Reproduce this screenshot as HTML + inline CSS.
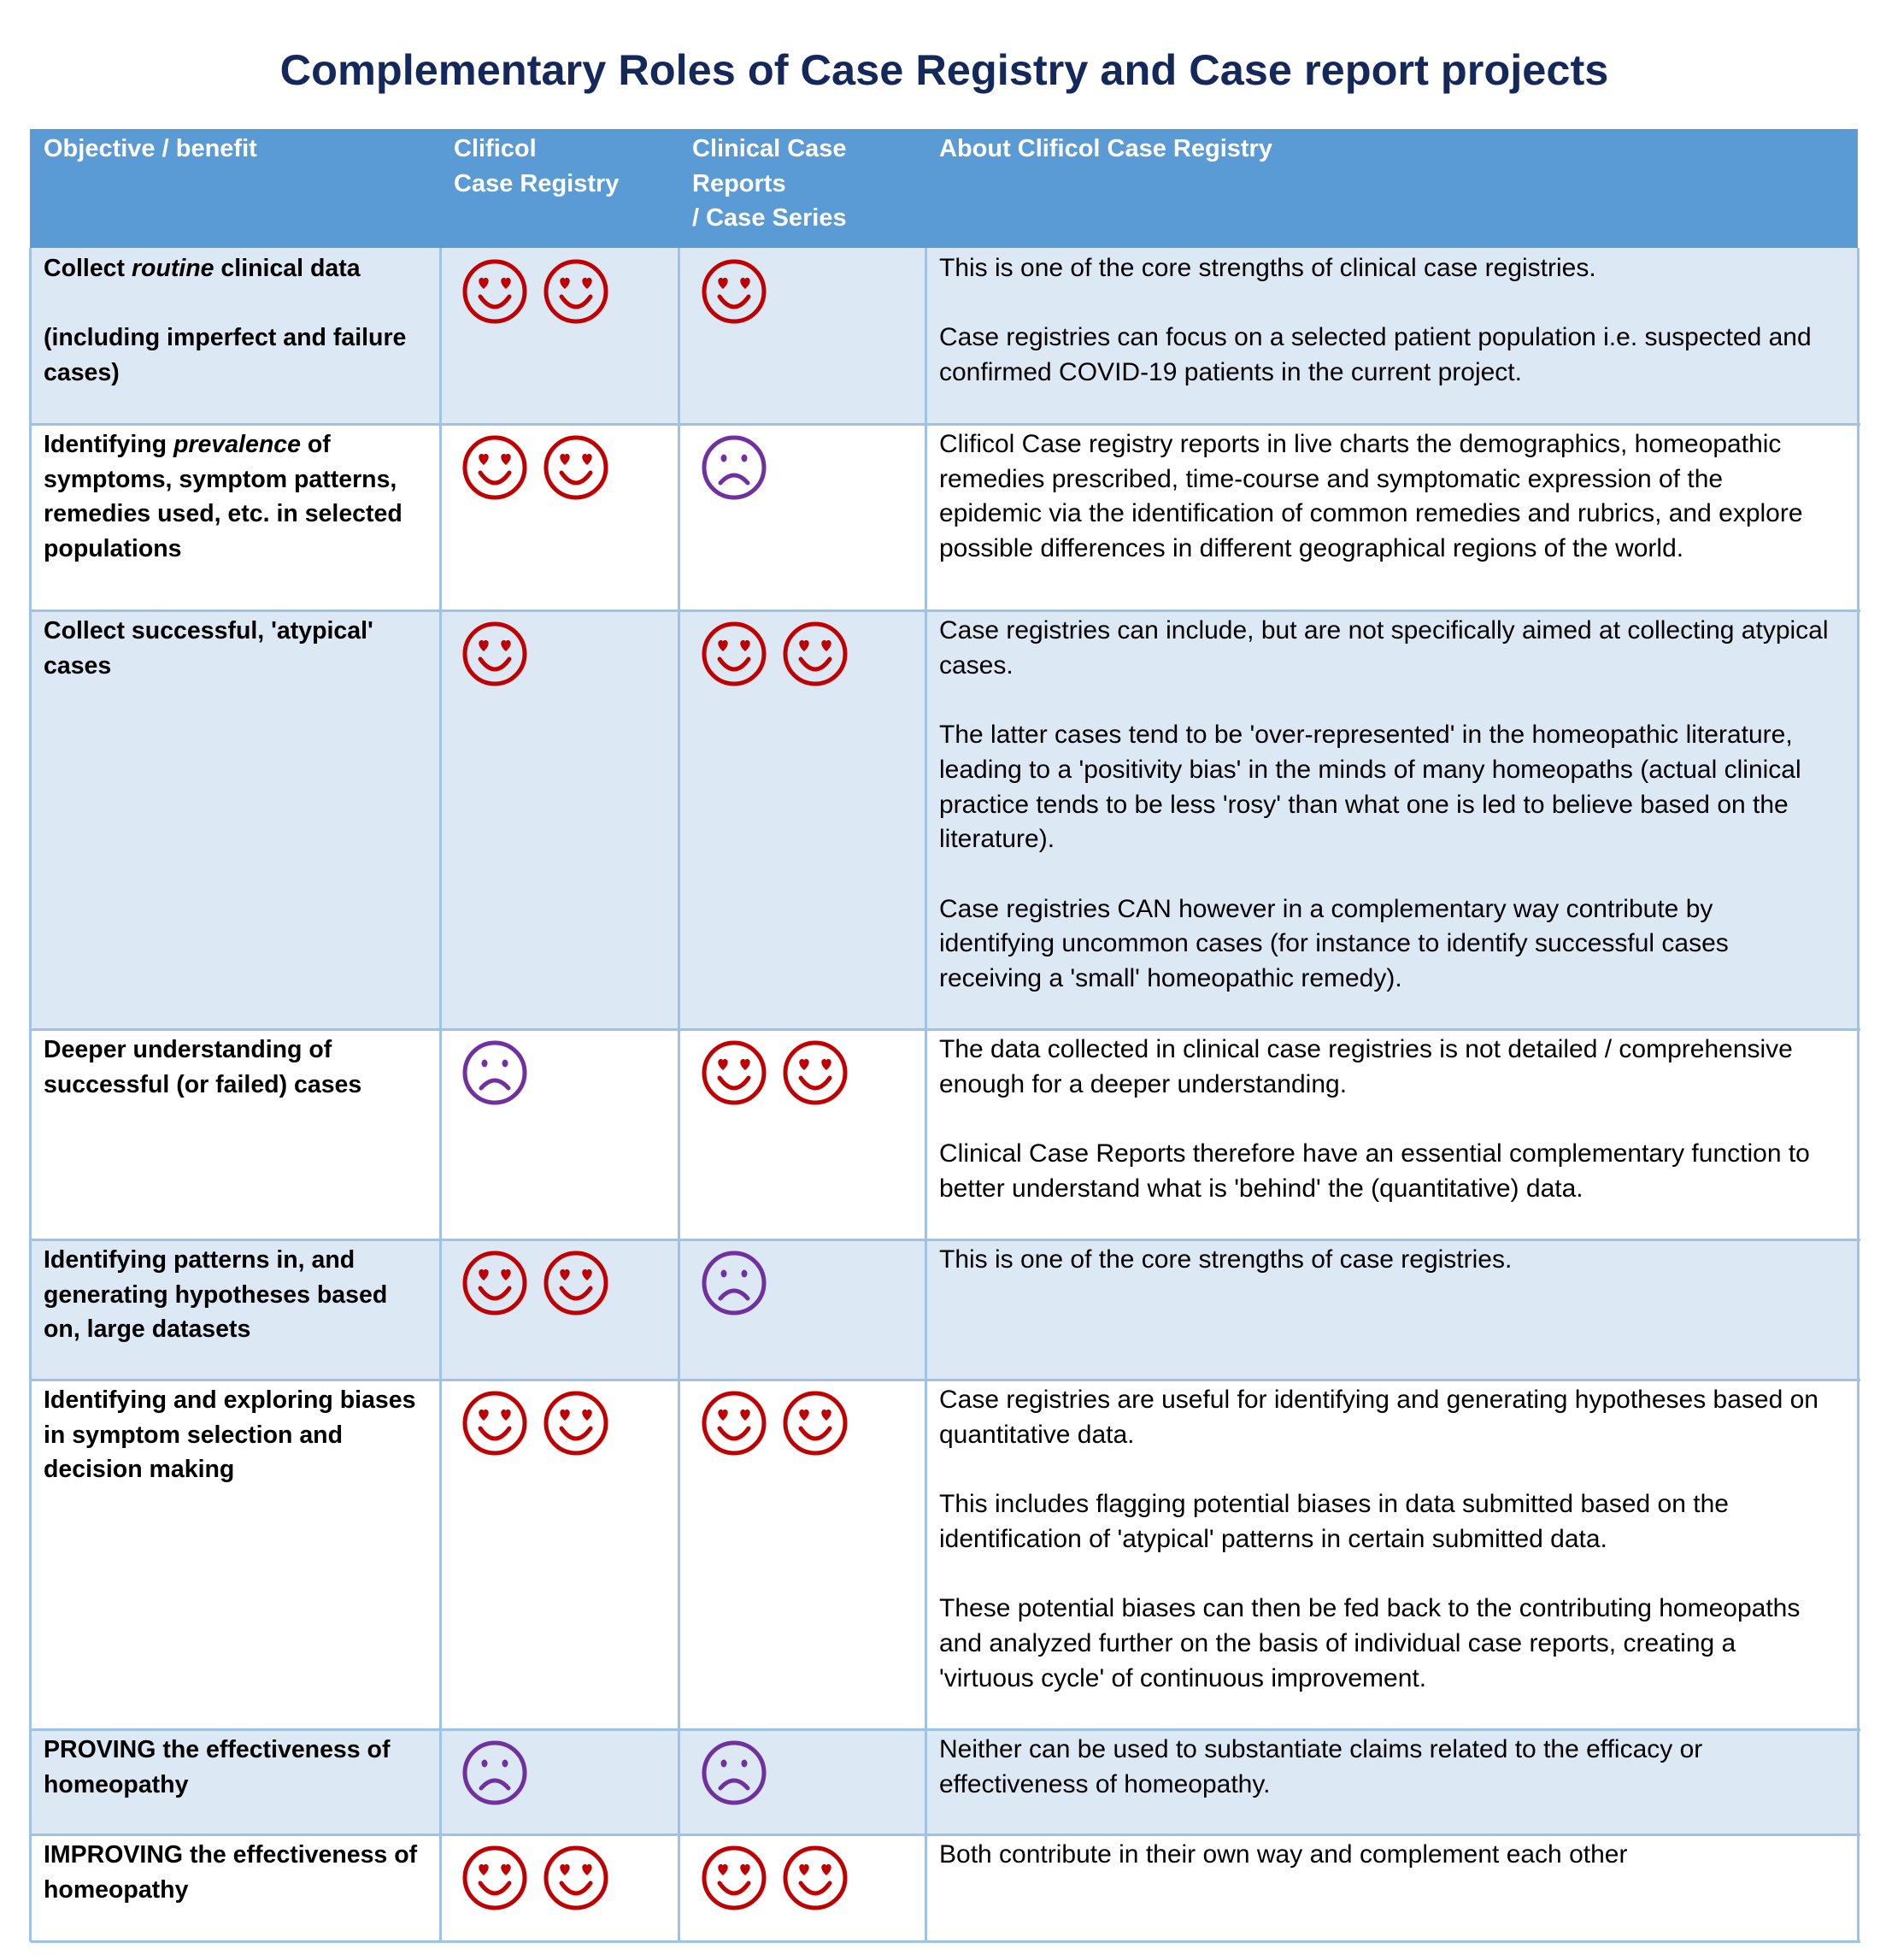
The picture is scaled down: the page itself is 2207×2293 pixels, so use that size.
<!DOCTYPE html>
<html><head><meta charset="utf-8"><style>
body{margin:0;width:2207px;height:2293px;background:#fff;position:relative;overflow:hidden;font-family:"Liberation Sans",sans-serif;}
.t{position:absolute;font-size:30px;line-height:40.7px;color:#000;white-space:nowrap;}
.b{font-weight:bold;font-size:28.5px;}
.h{color:#fff;font-weight:bold;font-size:29px;}
.row{position:absolute;left:35px;width:2139px;}
.vl{position:absolute;top:290px;height:1981px;width:3px;background:#9dc3e6;}
.hl{position:absolute;left:35px;width:2142px;height:3px;background:#9dc3e6;}
svg.s{position:absolute;width:80px;height:80px;}
</style></head><body>
<div style="position:absolute;left:0;width:2210px;top:52px;text-align:center;font-size:50.5px;font-weight:bold;color:#15285c;">Complementary Roles of Case Registry and Case report projects</div>

<div class="row" style="top:151px;height:139px;background:#5b9bd5"></div>
<div class="row" style="top:290px;height:206px;background:#dde8f5"></div>
<div class="row" style="top:714px;height:490px;background:#dde8f5"></div>
<div class="row" style="top:1450px;height:164px;background:#dde8f5"></div>
<div class="row" style="top:2023px;height:123px;background:#dde8f5"></div>

<div class="hl" style="top:495px"></div>
<div class="hl" style="top:713px"></div>
<div class="hl" style="top:1203px"></div>
<div class="hl" style="top:1449px"></div>
<div class="hl" style="top:1613px"></div>
<div class="hl" style="top:2022px"></div>
<div class="hl" style="top:2145px"></div>
<div class="hl" style="top:2270px"></div>
<div class="vl" style="left:34px"></div>
<div class="vl" style="left:514px"></div>
<div class="vl" style="left:793px"></div>
<div class="vl" style="left:1082px"></div>
<div class="vl" style="left:2173px"></div>

<div class="t h" style="left:51px;top:154px">Objective / benefit</div>
<div class="t h" style="left:531px;top:154px">Clificol<br>Case Registry</div>
<div class="t h" style="left:810px;top:154px">Clinical Case<br>Reports<br>/ Case Series</div>
<div class="t h" style="left:1099px;top:154px">About Clificol Case Registry</div>

<div class="t b" style="left:51px;top:294px">Collect <i>routine</i> clinical data<br><br>(including imperfect and failure<br>cases)</div>
<div class="t" style="left:1099px;top:294px">This is one of the core strengths of clinical case registries.<br><br>Case registries can focus on a selected patient population i.e. suspected and<br>confirmed COVID-19 patients in the current project.</div>

<div class="t b" style="left:51px;top:500px">Identifying <i>prevalence</i> of<br>symptoms, symptom patterns,<br>remedies used, etc. in selected<br>populations</div>
<div class="t" style="left:1099px;top:500px">Clificol Case registry reports in live charts the demographics, homeopathic<br>remedies prescribed, time-course and symptomatic expression of the<br>epidemic via the identification of common remedies and rubrics, and explore<br>possible differences in different geographical regions of the world.</div>

<div class="t b" style="left:51px;top:718px">Collect successful, 'atypical'<br>cases</div>
<div class="t" style="left:1099px;top:718px">Case registries can include, but are not specifically aimed at collecting atypical<br>cases.<br><br>The latter cases tend to be 'over-represented' in the homeopathic literature,<br>leading to a 'positivity bias' in the minds of many homeopaths (actual clinical<br>practice tends to be less 'rosy' than what one is led to believe based on the<br>literature).<br><br>Case registries CAN however in a complementary way contribute by<br>identifying uncommon cases (for instance to identify successful cases<br>receiving a 'small' homeopathic remedy).</div>

<div class="t b" style="left:51px;top:1208px">Deeper understanding of<br>successful (or failed) cases</div>
<div class="t" style="left:1099px;top:1208px">The data collected in clinical case registries is not detailed / comprehensive<br>enough for a deeper understanding.<br><br>Clinical Case Reports therefore have an essential complementary function to<br>better understand what is 'behind' the (quantitative) data.</div>

<div class="t b" style="left:51px;top:1454px">Identifying patterns in, and<br>generating hypotheses based<br>on, large datasets</div>
<div class="t" style="left:1099px;top:1454px">This is one of the core strengths of case registries.</div>

<div class="t b" style="left:51px;top:1618px">Identifying and exploring biases<br>in symptom selection and<br>decision making</div>
<div class="t" style="left:1099px;top:1618px">Case registries are useful for identifying and generating hypotheses based on<br>quantitative data.<br><br>This includes flagging potential biases in data submitted based on the<br>identification of 'atypical' patterns in certain submitted data.<br><br>These potential biases can then be fed back to the contributing homeopaths<br>and analyzed further on the basis of individual case reports, creating a<br>'virtuous cycle' of continuous improvement.</div>

<div class="t b" style="left:51px;top:2027px">PROVING the effectiveness of<br>homeopathy</div>
<div class="t" style="left:1099px;top:2027px">Neither can be used to substantiate claims related to the efficacy or<br>effectiveness of homeopathy.</div>

<div class="t b" style="left:51px;top:2150px">IMPROVING the effectiveness of<br>homeopathy</div>
<div class="t" style="left:1099px;top:2150px">Both contribute in their own way and complement each other</div>

<svg width="0" height="0" style="position:absolute"><defs>
<g id="hp"><circle cx="40" cy="40" r="35" fill="none" stroke="#c00000" stroke-width="5"/>
<path d="M27 37 C20 31 20 25 24 24 C26 23.5 27 25 27 26 C27 25 28 23.5 30 24 C34 25 34 31 27 37Z" fill="#c00000"/>
<path d="M53 37 C46 31 46 25 50 24 C52 23.5 53 25 53 26 C53 25 54 23.5 56 24 C60 25 60 31 53 37Z" fill="#c00000"/>
<path d="M23 46 Q40 70 57 46" fill="none" stroke="#c00000" stroke-width="5" stroke-linecap="round"/></g>
<g id="sd"><circle cx="40" cy="40" r="35" fill="none" stroke="#7030a0" stroke-width="5"/>
<ellipse cx="28" cy="29" rx="3.5" ry="4.5" fill="#7030a0"/><ellipse cx="52" cy="29" rx="3.5" ry="4.5" fill="#7030a0"/>
<path d="M24 58 Q40 40 56 58" fill="none" stroke="#7030a0" stroke-width="5" stroke-linecap="round"/></g>
</defs></svg>

<svg class="s" style="left:539px;top:301px"><use href="#hp"/></svg>
<svg class="s" style="left:634px;top:301px"><use href="#hp"/></svg>
<svg class="s" style="left:819px;top:301px"><use href="#hp"/></svg>

<svg class="s" style="left:539px;top:507px"><use href="#hp"/></svg>
<svg class="s" style="left:634px;top:507px"><use href="#hp"/></svg>
<svg class="s" style="left:819px;top:507px"><use href="#sd"/></svg>

<svg class="s" style="left:539px;top:725px"><use href="#hp"/></svg>
<svg class="s" style="left:819px;top:725px"><use href="#hp"/></svg>
<svg class="s" style="left:914px;top:725px"><use href="#hp"/></svg>

<svg class="s" style="left:539px;top:1215px"><use href="#sd"/></svg>
<svg class="s" style="left:819px;top:1215px"><use href="#hp"/></svg>
<svg class="s" style="left:914px;top:1215px"><use href="#hp"/></svg>

<svg class="s" style="left:539px;top:1461px"><use href="#hp"/></svg>
<svg class="s" style="left:634px;top:1461px"><use href="#hp"/></svg>
<svg class="s" style="left:819px;top:1461px"><use href="#sd"/></svg>

<svg class="s" style="left:539px;top:1625px"><use href="#hp"/></svg>
<svg class="s" style="left:634px;top:1625px"><use href="#hp"/></svg>
<svg class="s" style="left:819px;top:1625px"><use href="#hp"/></svg>
<svg class="s" style="left:914px;top:1625px"><use href="#hp"/></svg>

<svg class="s" style="left:539px;top:2034px"><use href="#sd"/></svg>
<svg class="s" style="left:819px;top:2034px"><use href="#sd"/></svg>

<svg class="s" style="left:539px;top:2157px"><use href="#hp"/></svg>
<svg class="s" style="left:634px;top:2157px"><use href="#hp"/></svg>
<svg class="s" style="left:819px;top:2157px"><use href="#hp"/></svg>
<svg class="s" style="left:914px;top:2157px"><use href="#hp"/></svg>
</body></html>
